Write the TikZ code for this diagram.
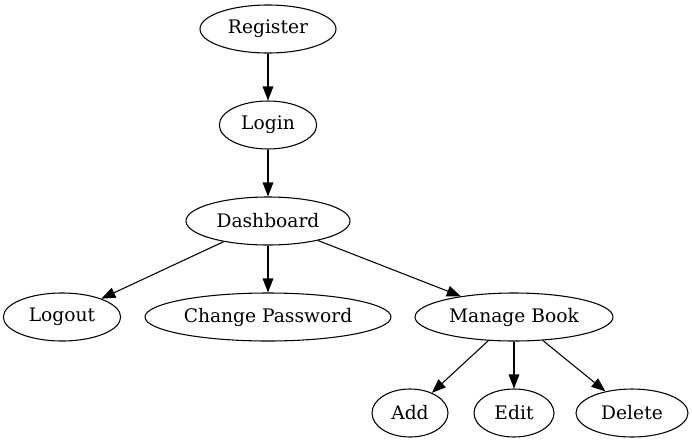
\documentclass[tikz,border=0pt]{standalone}
\usepackage{fontspec}
\setmainfont{DejaVu Serif}
\usetikzlibrary{shapes,arrows.meta,positioning}

\begin{document}
\begin{tikzpicture}[node distance=72pt,
    state/.style={draw, ellipse, line width=0.8pt, minimum height=36pt, inner sep=0pt, font=\fontsize{14pt}{16pt}\selectfont},
    flow/.style={-{Triangle[length=10.5pt,width=8pt]}, line width=0.8pt}]
    \useasboundingbox (-201pt,21.75pt) rectangle (318pt,-310.5pt);
    \node (register) [state, minimum width=102pt] {Register};
    \node (login) [state, below of=register, minimum width=73pt] {Login};
    \node (dashboard) [state, below of=login, minimum width=123pt] {Dashboard};
    \node (logout) [state, below of=dashboard, xshift=-154.5pt, minimum width=88pt] {Logout};
    \node (changepw) [state, below of=dashboard, minimum width=184.5pt] {Change Password};
    \node (managebook) [state, below of=dashboard, xshift=184.5pt, minimum width=148.5pt] {Manage Book};
    \node (add) [state, below of=managebook, xshift=-78pt, minimum width=57pt] {Add};
    \node (edit) [state, below of=managebook, minimum width=60pt] {Edit};
    \node (delete) [state, below of=managebook, xshift=88.5pt, minimum width=84pt] {Delete};

    \draw [flow] (register) -- (login);
    \draw [flow] (login) -- (dashboard);
    \draw [flow] (dashboard) -- (logout);
    \draw [flow] (dashboard) -- (changepw);
    \draw [flow] (dashboard) -- (managebook);
    \draw [flow] (managebook) -- (add);
    \draw [flow] (managebook) -- (edit);
    \draw [flow] (managebook) -- (delete);
\end{tikzpicture}
\end{document}
